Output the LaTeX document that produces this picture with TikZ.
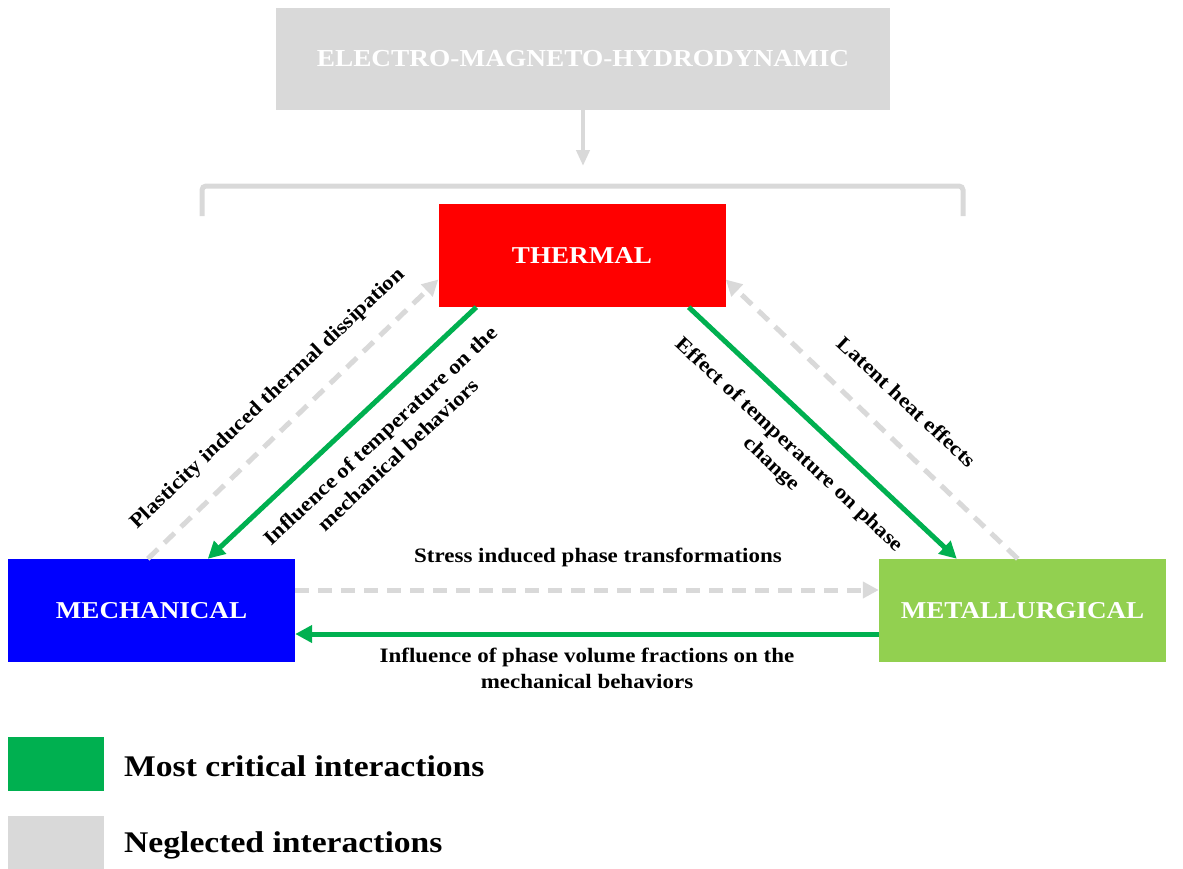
\documentclass[tikz,border=0pt]{standalone}
\usepackage{fontspec}
\setmainfont{Liberation Serif}[FakeStretch=1.12]
\usetikzlibrary{arrows.meta}
\definecolor{critgreen}{RGB}{0,176,80}
\definecolor{neglgray}{RGB}{217,217,217}
\definecolor{metalgreen}{RGB}{146,208,80}
\tikzset{
  fieldbox/.style={minimum width=287pt, minimum height=103pt, inner sep=0pt, text=white,
    font=\fontsize{24.2}{28}\selectfont\bfseries},
  critical/.style={draw=critgreen, line width=5pt, -{Triangle[length=17pt,width=17pt]}},
  neglected/.style={draw=neglgray, line width=5pt, dash pattern=on 14pt off 9pt,
    -{Triangle[length=16pt,width=16pt]}},
  arrowlabel/.style={font=\fontsize{20.5}{26}\selectfont\bfseries, align=center, inner sep=0pt},
  legendtext/.style={font=\fontsize{30}{36}\selectfont\bfseries, anchor=west, inner sep=0pt}
}
\begin{document}
\begin{tikzpicture}[x=1pt,y=-1pt]
\useasboundingbox (0,0) rectangle (1183,868);
% boxes
\node[fieldbox, fill=neglgray, minimum width=614pt, minimum height=102pt, font=\fontsize{24.4}{28}\selectfont\bfseries] (emh) at (583,59) {ELECTRO-MAGNETO-HYDRODYNAMIC};
\node[fieldbox, fill=red] (thermal) at (582,255.5) {THERMAL};
\node[fieldbox, fill=blue] (mech) at (151.5,610.5) {MECHANICAL};
\node[fieldbox, fill=metalgreen] (metal) at (1022.5,610.5) {METALLURGICAL};
% external coupling
\coordinate (emhend) at (583,166);
\draw[draw=neglgray, line width=4pt, -{Triangle[length=16pt,width=13pt]}] (emh.south) -- (emhend);
\draw[draw=neglgray, line width=5pt, rounded corners=4pt] (202,216) -- (202,186) -- (963,186) -- (963,216);
% thermal <-> mechanical
\draw[critical] ([xshift=38pt]thermal.south west) -- ([xshift=200pt]mech.north west);
\draw[neglected] ([xshift=140pt]mech.north west) -- ([yshift=-24pt]thermal.west);
% thermal <-> metallurgical
\draw[critical] ([xshift=-37pt]thermal.south east) -- ([xshift=78pt]metal.north west);
\draw[neglected] ([xshift=139pt]metal.north west) -- ([yshift=-24pt]thermal.east);
% mechanical <-> metallurgical
\draw[neglected] ([yshift=20.5pt]mech.east) -- ([yshift=20.5pt]metal.west);
\draw[critical] ([yshift=-23.5pt]metal.west) -- ([yshift=-23.5pt]mech.east);
% labels
\node[arrowlabel, rotate=43.5] (lplast) at (268,399) {Plasticity induced thermal dissipation};
\node[arrowlabel, rotate=43] (ltempmech) at (389,445) {Influence of temperature on the\\mechanical behaviors};
\node[arrowlabel, rotate=-43] (ltempphase) at (780,455) {Effect of temperature on phase\\change};
\node[arrowlabel, rotate=-43] (llatent) at (907,402) {Latent heat effects};
\node[arrowlabel] (lstress) at (598,557) {Stress induced phase transformations};
\node[arrowlabel] (lfrac) at (587,668) {Influence of phase volume fractions on the\\mechanical behaviors};
% legend
\node[fill=critgreen, minimum width=96pt, minimum height=54pt, inner sep=0pt] (kcrit) at (56,764) {};
\node[fill=neglgray, minimum width=96pt, minimum height=54pt, inner sep=0pt] (kneg) at (56,843) {};
\node[legendtext] (tcrit) at (124,766) {Most critical interactions};
\node[legendtext] (tneg) at (124,845) {Neglected interactions};
\end{tikzpicture}
\end{document}
